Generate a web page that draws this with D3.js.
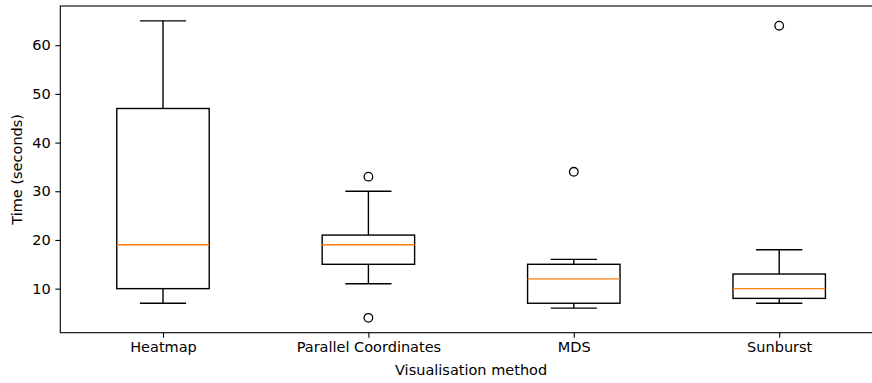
<!DOCTYPE html>
<html>
<head>
<meta charset="utf-8">
<script src="https://cdn.jsdelivr.net/npm/d3@7"></script>
<style>
  body { margin: 0; background: #fff; }
  svg { display: block; font-family: "DejaVu Sans", sans-serif; }
</style>
</head>
<body>
<svg id="chart" width="872" height="383"></svg>
<script>
// box stats
var methods = ["Heatmap", "Parallel Coordinates", "MDS", "Sunburst"];
var whiskLo = [7, 11, 6, 7];
var q1 = [10, 15, 7, 8];
var median = [19, 19, 12, 10];
var q3 = [47, 21, 15, 13];
var whiskHi = [65, 30, 16, 18];
var fliers = [[], [33, 4], [34], [64]];
var yTicks = [10, 20, 30, 40, 50, 60];

var svg = d3.select("#chart");
var plotL = 60.3, plotR = 881.9, plotT = 6, plotB = 332.7;

var x = d3.scaleLinear().domain([0.5, 4.5]).range([plotL, plotR]);
var y = d3.scaleLinear().domain([0.95, 68.05]).range([plotB, plotT]);

var boxes = methods.map(function(m, i) {
  return {name: m, pos: i + 1, lo: whiskLo[i], q1: q1[i], med: median[i], q3: q3[i], hi: whiskHi[i], out: fliers[i]};
});

var halfW = 0.225, capW = 0.1125;
var lw = 1.4;

var g = svg.append("g");

// whiskers
g.selectAll(".whisk")
  .data(boxes).enter().append("g")
  .each(function(d) {
    var s = d3.select(this);
    s.append("line").attr("x1", x(d.pos)).attr("x2", x(d.pos)).attr("y1", y(d.q1)).attr("y2", y(d.lo));
    s.append("line").attr("x1", x(d.pos)).attr("x2", x(d.pos)).attr("y1", y(d.q3)).attr("y2", y(d.hi));
    s.append("line").attr("x1", x(d.pos - capW)).attr("x2", x(d.pos + capW)).attr("y1", y(d.lo)).attr("y2", y(d.lo));
    s.append("line").attr("x1", x(d.pos - capW)).attr("x2", x(d.pos + capW)).attr("y1", y(d.hi)).attr("y2", y(d.hi));
  })
  .selectAll("line").attr("stroke", "#000").attr("stroke-width", lw);

// boxes
g.selectAll(".box")
  .data(boxes).enter().append("rect")
  .attr("x", function(d) { return x(d.pos - halfW); })
  .attr("width", function(d) { return x(d.pos + halfW) - x(d.pos - halfW); })
  .attr("y", function(d) { return y(d.q3); })
  .attr("height", function(d) { return y(d.q1) - y(d.q3); })
  .attr("fill", "none").attr("stroke", "#000").attr("stroke-width", lw);

// medians
g.selectAll(".med")
  .data(boxes).enter().append("line")
  .attr("x1", function(d) { return x(d.pos - halfW); })
  .attr("x2", function(d) { return x(d.pos + halfW); })
  .attr("y1", function(d) { return y(d.med); })
  .attr("y2", function(d) { return y(d.med); })
  .attr("stroke", "#ff7f0e").attr("stroke-width", lw);

// outliers
var outPts = [];
boxes.forEach(function(d) { d.out.forEach(function(v) { outPts.push({pos: d.pos, v: v}); }); });
g.selectAll(".flier")
  .data(outPts).enter().append("circle")
  .attr("cx", function(d) { return x(d.pos); })
  .attr("cy", function(d) { return y(d.v); })
  .attr("r", 4.3)
  .attr("fill", "none").attr("stroke", "#000").attr("stroke-width", 1.3);

// axes
var yAxis = svg.append("g")
  .attr("transform", "translate(" + plotL + ",0)")
  .call(d3.axisLeft(y).tickValues(yTicks).tickSize(5).tickPadding(4.5).tickSizeOuter(0));
var xAxis = svg.append("g")
  .attr("transform", "translate(0," + plotB + ")")
  .call(d3.axisBottom(x).tickValues([1, 2, 3, 4]).tickFormat(function(d) { return methods[d - 1]; })
    .tickSize(5).tickPadding(4.5).tickSizeOuter(0));
[yAxis, xAxis].forEach(function(a) {
  a.selectAll("text").attr("font-size", "14.5px").attr("font-family", "DejaVu Sans").attr("fill", "#000");
  a.selectAll("line").attr("stroke", "#000").attr("stroke-width", 1.1);
  a.select(".domain").remove();
});

// spines
svg.append("rect")
  .attr("x", plotL).attr("y", plotT)
  .attr("width", plotR - plotL).attr("height", plotB - plotT)
  .attr("fill", "none").attr("stroke", "#000").attr("stroke-width", 1.1);

// labels
svg.append("text")
  .attr("x", (plotL + plotR) / 2).attr("y", 375)
  .attr("text-anchor", "middle").attr("font-size", "14.5px")
  .text("Visualisation method");
svg.append("text")
  .attr("transform", "translate(22," + (plotT + plotB) / 2 + ") rotate(-90)")
  .attr("text-anchor", "middle").attr("font-size", "14.5px")
  .text("Time (seconds)");
</script>
</body>
</html>
